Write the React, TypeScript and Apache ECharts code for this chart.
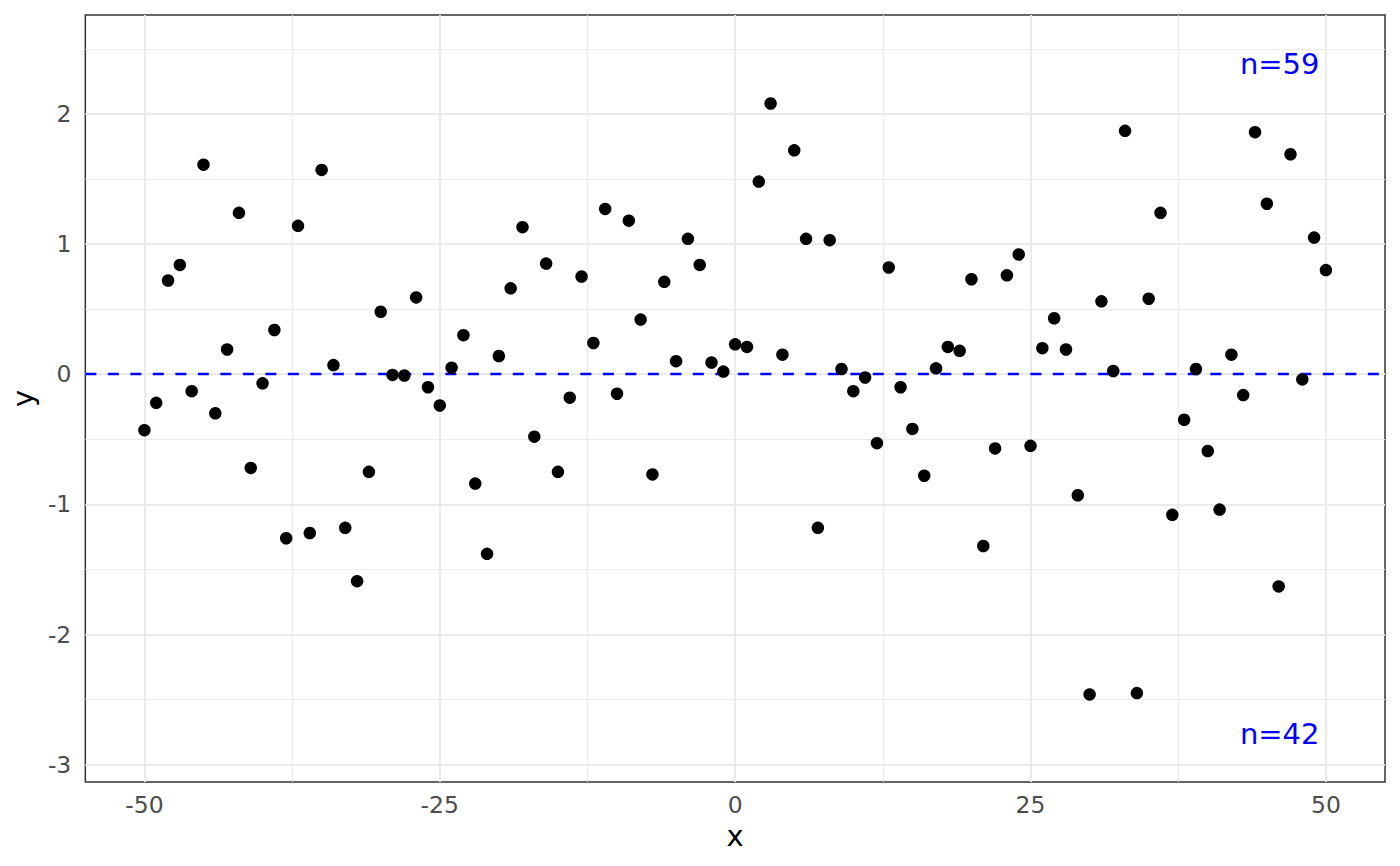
import React, { useEffect, useRef } from "react";
import * as echarts from "echarts";

const xValues = [
  -50, -49, -48, -47, -46, -45, -44, -43, -42, -41, -40, -39, -38, -37, -36, -35, -34,
  -33, -32, -31, -30, -29, -28, -27, -26, -25, -24, -23, -22, -21, -20, -19, -18, -17,
  -16, -15, -14, -13, -12, -11, -10, -9, -8, -7, -6, -5, -4, -3, -2, -1, 0, 1, 2, 3, 4,
  5, 6, 7, 8, 9, 10, 11, 12, 13, 14, 15, 16, 17, 18, 19, 20, 21, 22, 23, 24, 25, 26, 27,
  28, 29, 30, 31, 32, 33, 34, 35, 36, 37, 38, 39, 40, 41, 42, 43, 44, 45, 46, 47, 48, 49, 50,
];

const yValues = [
  -0.43, -0.22, 0.72, 0.84, -0.13, 1.61, -0.3, 0.19, 1.24, -0.72, -0.07, 0.34, -1.26,
  1.14, -1.22, 1.57, 0.07, -1.18, -1.59, -0.75, 0.48, -0.005, -0.01, 0.59, -0.1, -0.24,
  0.05, 0.3, -0.84, -1.38, 0.14, 0.66, 1.13, -0.48, 0.85, -0.75, -0.18, 0.75, 0.24, 1.27,
  -0.15, 1.18, 0.42, -0.77, 0.71, 0.1, 1.04, 0.84, 0.09, 0.02, 0.23, 0.21, 1.48, 2.08,
  0.15, 1.72, 1.04, -1.18, 1.03, 0.04, -0.13, -0.025, -0.53, 0.82, -0.1, -0.42, -0.78,
  0.045, 0.21, 0.18, 0.73, -1.32, -0.57, 0.76, 0.92, -0.55, 0.2, 0.43, 0.19, -0.93, -2.46,
  0.56, 0.025, 1.87, -2.45, 0.58, 1.24, -1.08, -0.35, 0.04, -0.59, -1.04, 0.15, -0.16,
  1.86, 1.31, -1.63, 1.69, -0.04, 1.05, 0.8,
];

const xMajorTicks = [-50, -25, 0, 25, 50];
const xMinorGrid = [-37.5, -12.5, 12.5, 37.5];
const yMajorTicks = [-3, -2, -1, 0, 1, 2];
const yMinorGrid = [-2.5, -1.5, -0.5, 0.5, 1.5, 2.5];
const refLineY = 0;

const annotationX = [49.5, 49.5];
const annotationY = [2.38, -2.762];
const annotationText = ["n=59", "n=42"];

const FONT = "DejaVu Sans";

export default function App() {
  const ref = useRef<HTMLDivElement>(null);

  useEffect(() => {
    if (!ref.current) return;
    const chart = echarts.init(ref.current, null, { renderer: "svg" });

    const markLineBase = {
      silent: true,
      symbol: "none",
      label: { show: false },
      emphasis: { disabled: true },
      animation: false,
    };

    const option = {
      animation: false,
      backgroundColor: "#ffffff",
      grid: {
        left: 85,
        right: 15,
        top: 15,
        bottom: 84,
        show: true,
        borderColor: "#333333",
        borderWidth: 1.5,
        backgroundColor: "#ffffff",
        containLabel: false,
      },
      xAxis: {
        type: "value",
        min: -55,
        max: 55,
        name: "x",
        nameLocation: "middle",
        nameGap: 38,
        nameTextStyle: { fontSize: 29, color: "#000000", fontFamily: FONT },
        axisLine: { show: false },
        axisTick: {
          show: true,
          length: 7,
          customValues: xMajorTicks,
          lineStyle: { color: "#333333", width: 1.5 },
        },
        axisLabel: {
          customValues: xMajorTicks,
          fontSize: 23.5,
          color: "#4D4D4D",
          fontFamily: FONT,
          margin: 11,
        },
        splitLine: { show: false },
      },
      yAxis: {
        type: "value",
        min: -3.133,
        max: 2.76,
        name: "y",
        nameLocation: "middle",
        nameGap: 46,
        nameRotate: 90,
        nameTextStyle: { fontSize: 29, color: "#000000", fontFamily: FONT },
        axisLine: { show: false },
        axisTick: {
          show: true,
          length: 7,
          customValues: yMajorTicks,
          lineStyle: { color: "#333333", width: 1.5 },
        },
        axisLabel: {
          customValues: yMajorTicks,
          fontSize: 23.5,
          color: "#4D4D4D",
          fontFamily: FONT,
          margin: 14,
        },
        splitLine: { show: false },
      },
      series: [
        {
          type: "scatter",
          z: 1,
          silent: true,
          symbolSize: 0,
          data: [],
          markLine: {
            ...markLineBase,
            lineStyle: { color: "#EBEBEB", width: 1, type: "solid" },
            data: [
              ...xMinorGrid.map((v) => ({ xAxis: v })),
              ...yMinorGrid.map((v) => ({ yAxis: v })),
            ],
          },
        },
        {
          type: "scatter",
          z: 2,
          silent: true,
          symbolSize: 0,
          data: [],
          markLine: {
            ...markLineBase,
            lineStyle: { color: "#EBEBEB", width: 2, type: "solid" },
            data: [
              ...xMajorTicks.map((v) => ({ xAxis: v })),
              ...yMajorTicks.map((v) => ({ yAxis: v })),
            ],
          },
        },
        {
          type: "scatter",
          z: 3,
          silent: true,
          symbolSize: 0,
          data: [],
          markLine: {
            ...markLineBase,
            lineStyle: { color: "#0000FF", width: 2.4, type: [11, 11.5] },
            data: [{ yAxis: refLineY }],
          },
        },
        {
          type: "scatter",
          z: 5,
          symbol: "circle",
          symbolSize: 12.5,
          itemStyle: { color: "#000000", opacity: 1 },
          data: xValues.map((x, i) => [x, yValues[i]]),
        },
        {
          type: "scatter",
          z: 6,
          silent: true,
          symbolSize: 1,
          itemStyle: { color: "rgba(0,0,0,0)" },
          label: {
            show: true,
            position: "left",
            distance: 0,
            formatter: "{b}",
            color: "#0000FF",
            opacity: 1,
            fontSize: 29,
            fontFamily: FONT,
          },
          data: annotationText.map((t, i) => ({
            name: t,
            value: [annotationX[i], annotationY[i]],
          })),
        },
      ],
    };

    chart.setOption(option as any);
    return () => chart.dispose();
  }, []);

  return (
    <div
      ref={ref}
      style={{ position: "fixed", left: 0, top: 0, width: 1400, height: 866 }}
    />
  );
}
